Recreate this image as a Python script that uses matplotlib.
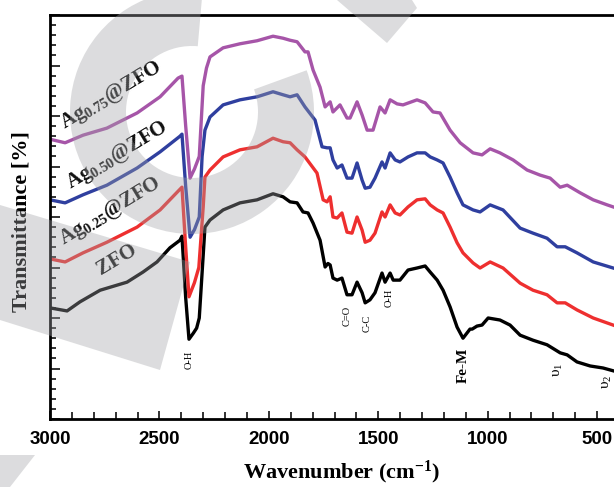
import matplotlib
matplotlib.use("Agg")
import matplotlib.pyplot as plt
from matplotlib.ticker import MultipleLocator, NullFormatter
from matplotlib.patches import Wedge, Polygon

# ---- data (wavenumber cm^-1, transmittance in arbitrary offset units) ----
zfo_w = [3000, 2922, 2863, 2771, 2648, 2575, 2511, 2452, 2406, 2397, 2380, 2365, 2345, 2330, 2318,
         2305, 2292, 2269, 2209, 2132, 2054, 1981, 1935, 1903, 1871, 1844, 1821, 1798, 1766, 1743,
         1730, 1720, 1707, 1688, 1666, 1643, 1620, 1597, 1574, 1560, 1538, 1515, 1483, 1469, 1446,
         1432, 1401, 1364, 1323, 1286, 1263, 1231, 1204, 1172, 1140, 1113, 1081, 1071, 1049, 1026,
         998, 944, 898, 852, 793, 729, 669, 637, 592, 532, 473, 423]
zfo_t = [2.20, 2.14, 2.32, 2.55, 2.71, 2.91, 3.11, 3.39, 3.54, 3.62, 2.40, 1.58, 1.70, 1.80, 2.00,
         2.90, 3.80, 3.94, 4.14, 4.28, 4.34, 4.46, 4.40, 4.30, 4.28, 4.10, 4.08, 3.88, 3.54, 3.01,
         3.08, 3.05, 2.79, 2.75, 2.79, 2.46, 2.46, 2.71, 2.50, 2.30, 2.36, 2.50, 2.89, 2.71, 2.89,
         2.75, 2.75, 2.95, 2.99, 3.03, 2.91, 2.75, 2.55, 2.22, 1.82, 1.60, 1.78, 1.78, 1.84, 1.86,
         2.00, 1.96, 1.86, 1.66, 1.56, 1.47, 1.31, 1.27, 1.13, 1.05, 1.01, 0.95]

ag25_w = [3000, 2931, 2849, 2740, 2602, 2497, 2406, 2397, 2380, 2365, 2340, 2320, 2300, 2292, 2269,
          2209, 2132, 2054, 1981, 1935, 1903, 1871, 1835, 1780, 1752, 1734, 1720, 1707, 1688, 1666,
          1643, 1620, 1597, 1574, 1560, 1538, 1515, 1483, 1469, 1446, 1423, 1401, 1364, 1323, 1286,
          1263, 1231, 1204, 1172, 1140, 1113, 1067, 1035, 989, 930, 852, 793, 729, 683, 646, 592,
          518, 427]
ag25_t = [3.17, 3.11, 3.29, 3.50, 3.80, 4.14, 4.55, 4.59, 3.40, 2.42, 2.70, 3.00, 4.20, 4.79, 4.93,
          5.19, 5.33, 5.39, 5.56, 5.49, 5.47, 5.33, 5.19, 4.87, 4.34, 4.30, 4.40, 4.00, 3.98, 4.08,
          3.70, 3.68, 4.00, 3.74, 3.50, 3.54, 3.68, 4.10, 4.00, 4.24, 4.08, 4.04, 4.20, 4.34, 4.36,
          4.24, 4.14, 4.08, 3.80, 3.49, 3.29, 3.09, 2.99, 3.11, 2.99, 2.69, 2.55, 2.46, 2.30, 2.30, 2.16,
          2.00, 1.86]

ag50_w = [3000, 2931, 2849, 2740, 2602, 2497, 2406, 2397, 2380, 2360, 2340, 2318, 2305, 2292, 2269,
          2209, 2132, 2054, 1981, 1935, 1903, 1871, 1835, 1789, 1757, 1734, 1720, 1707, 1688, 1666,
          1643, 1620, 1597, 1574, 1560, 1538, 1515, 1483, 1469, 1446, 1423, 1401, 1364, 1323, 1286,
          1263, 1231, 1204, 1172, 1140, 1113, 1067, 1035, 989, 930, 852, 793, 729, 683, 646, 592,
          518, 427]
ag50_t = [4.34, 4.28, 4.44, 4.63, 4.97, 5.29, 5.60, 5.64, 4.60, 3.60, 3.75, 4.00, 5.20, 5.72, 5.98,
          6.22, 6.32, 6.38, 6.48, 6.42, 6.38, 6.42, 6.18, 5.92, 5.39, 5.37, 5.37, 5.13, 4.97, 5.03,
          4.77, 4.77, 5.07, 4.73, 4.57, 4.59, 4.77, 5.09, 4.97, 5.27, 5.13, 5.09, 5.19, 5.27, 5.27,
          5.19, 5.13, 5.07, 4.79, 4.48, 4.24, 4.14, 4.10, 4.24, 4.14, 3.78, 3.68, 3.58, 3.41, 3.41, 3.29,
          3.11, 2.99]

ag75_w = [3000, 2931, 2849, 2740, 2602, 2497, 2415, 2397, 2380, 2360, 2340, 2318, 2300, 2285, 2269,
          2209, 2132, 2054, 1981, 1935, 1903, 1871, 1835, 1821, 1798, 1766, 1743, 1720, 1707, 1675,
          1643, 1629, 1597, 1574, 1551, 1524, 1492, 1469, 1446, 1414, 1387, 1323, 1286, 1250, 1218,
          1172, 1126, 1067, 1026, 989, 944, 884, 820, 761, 715, 669, 637, 578, 518, 454, 427]
ag75_t = [5.54, 5.47, 5.62, 5.76, 6.06, 6.38, 6.75, 6.79, 5.80, 4.77, 4.95, 5.20, 6.60, 6.95, 7.17,
          7.35, 7.43, 7.49, 7.58, 7.54, 7.50, 7.47, 7.27, 7.27, 6.91, 6.57, 6.18, 6.28, 6.08, 6.22,
          5.96, 5.96, 6.28, 6.02, 5.72, 5.72, 6.18, 6.06, 6.32, 6.24, 6.22, 6.32, 6.26, 6.08, 6.06,
          5.72, 5.47, 5.27, 5.23, 5.35, 5.27, 5.13, 4.93, 4.83, 4.77, 4.59, 4.63, 4.48, 4.34, 4.24, 4.20]

series_labels = ["ZFO", r"Ag$_{\mathbf{0.25}}$@ZFO", r"Ag$_{\mathbf{0.50}}$@ZFO", r"Ag$_{\mathbf{0.75}}$@ZFO"]
series_colors = ["#000000", "#ee2f2f", "#2f3f9f", "#a655a8"]

peak_labels = ["O-H", "C=O", "C-C", "O-H", "Fe-M", r"υ$_1$", r"υ$_2$"]
peak_w = [2365, 1643, 1551, 1451, 1113, 680, 455]
peak_t = [1.17, 2.04, 1.90, 2.40, 1.07, 0.97, 0.73]

xticks = [3000, 2500, 2000, 1500, 1000, 500]

plt.rcParams['mathtext.fontset'] = 'custom'
plt.rcParams['mathtext.rm'] = 'Liberation Serif'
plt.rcParams['mathtext.bf'] = 'Liberation Serif:bold'
plt.rcParams['mathtext.it'] = 'Liberation Serif:italic'

fig = plt.figure(figsize=(6.14, 4.87), dpi=100)
ax = fig.add_axes([50/614, 68/487, 1 - 50/614, (419-15)/487])

data = [(zfo_w, zfo_t), (ag25_w, ag25_t), (ag50_w, ag50_t), (ag75_w, ag75_t)]
for (w, t), c in zip(data, series_colors):
    ax.plot(w, t, color=c, lw=2.4, solid_joinstyle='round')

ax.set_xlim(3000, 423)
ax.set_ylim(0, 8)

ax.xaxis.set_major_locator(MultipleLocator(500))
ax.xaxis.set_minor_locator(MultipleLocator(100))
ax.yaxis.set_major_locator(MultipleLocator(1))
ax.yaxis.set_minor_locator(MultipleLocator(0.2))
ax.yaxis.set_major_formatter(NullFormatter())
ax.tick_params(axis='both', which='both', direction='in', width=1.3, color='#222222')
ax.tick_params(axis='x', which='major', length=6, pad=9)
ax.tick_params(axis='x', which='minor', length=5)
ax.tick_params(axis='y', which='major', length=7)
ax.tick_params(axis='y', which='minor', length=4)
ax.set_xticks(xticks)
ax.set_xticklabels([str(v) for v in xticks], fontdict=dict(family='Liberation Sans', weight='bold', size=13.5))
for s in ['left', 'bottom', 'top']:
    ax.spines[s].set_linewidth(2.0)
ax.spines['right'].set_visible(False)

ax.set_xlabel(r"Wavenumber (cm$^{\mathbf{-1}}$)", family='Liberation Serif', weight='bold', size=16)
ax.xaxis.set_label_coords((342 - 50) / 564, -0.098)
ax.set_ylabel("Transmittance [%]", family='Liberation Serif', weight='bold', size=16)
ax.yaxis.set_label_coords(-0.033, (419 - 222) / 404)

# series labels
lab_pos = [(2694, 3.15), (2726, 4.10), (2694, 5.21), (2721, 6.40)]
for txt, (x, y) in zip(series_labels, lab_pos):
    ax.text(x, y, txt, family='Liberation Serif', weight='bold', size=15, rotation=31,
            ha='center', va='center', color='#111111')

# peak annotations
for txt, x, y in zip(peak_labels, peak_w, peak_t):
    size = 11 if (txt == "Fe-M" or "υ" in txt) else 7.5
    ax.text(x, y, txt, family='Liberation Serif', size=size, rotation=90,
            ha='center', va='center', color='black', weight='bold' if txt == "Fe-M" else 'normal')

# ---- faint watermark overlay (pixel coordinates) ----
wm = fig.add_axes([0, 0, 1, 1], zorder=10)
wm.set_xlim(0, 614)
wm.set_ylim(487, 0)
wm.axis('off')
wm.patch.set_alpha(0)
wm_col = (0.63, 0.635, 0.65)
wm_alpha = 0.37
wm.add_patch(Wedge((192, 112), 122, -20, 275, width=56, facecolor=wm_col, alpha=wm_alpha, lw=0))
wm.add_patch(Polygon([(337, 0), (412, 0), (417, 8), (387, 43)], closed=True, facecolor=wm_col, alpha=wm_alpha, lw=0))
wm.add_patch(Polygon([(0, 205), (190, 262), (160, 370), (0, 320)], closed=True, facecolor=wm_col, alpha=wm_alpha, lw=0))
wm.add_patch(Polygon([(0, 455), (35, 455), (10, 487), (0, 487)], closed=True, facecolor=wm_col, alpha=wm_alpha, lw=0))

fig.savefig("out.png", dpi=100)
